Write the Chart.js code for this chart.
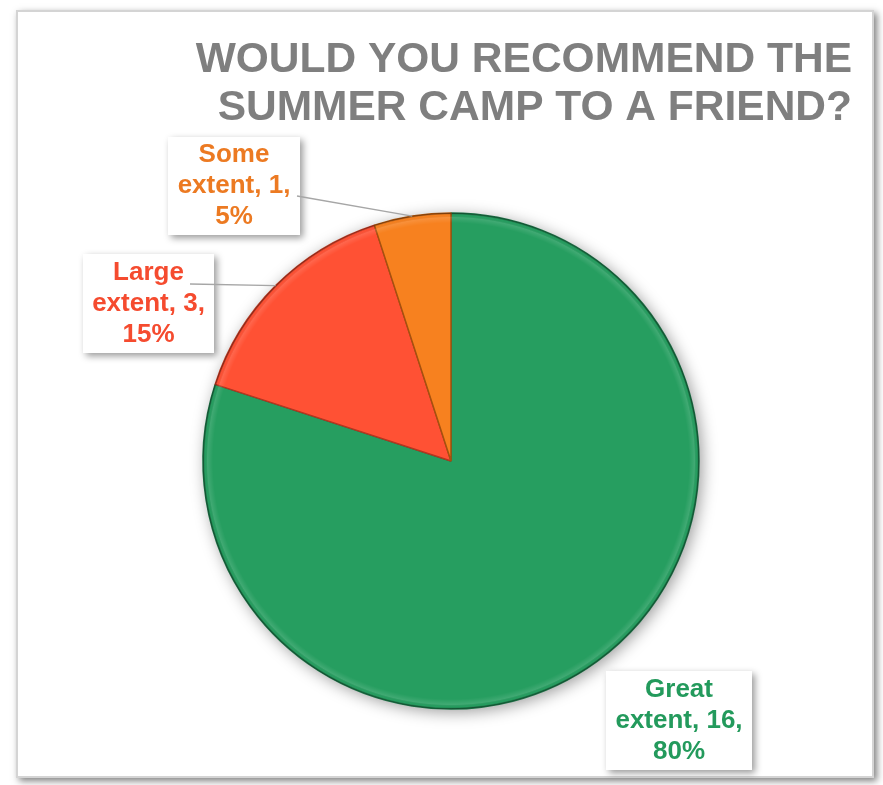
<!DOCTYPE html>
<html>
<head>
<meta charset="utf-8">
<title>Summer camp survey</title>
<script src="https://cdn.jsdelivr.net/npm/chart.js@4.4.0/dist/chart.umd.min.js"></script>
<style>
  html, body { margin: 0; padding: 0; background: #fff; }
  canvas { display: block; }
</style>
</head>
<body>
<canvas id="campChart" width="883" height="785"></canvas>
<script>
// survey answers
const answers = ['Great extent', 'Large extent', 'Some extent'];
const counts = [16, 3, 1];
const percents = [80, 15, 5];
const titleLines = ['WOULD YOU RECOMMEND THE', 'SUMMER CAMP TO A FRIEND?'];

const sliceColors = ['#269E60', '#FF5134', '#F7811F'];
const sliceEdges = ['#1A6C42', '#B53620', '#A5520E'];
const textColors = ['#239A5C', '#F54B2F', '#EC7A22'];

// label boxes: left, top, width, height, leader line start (null = no leader)
const boxes = [
  { x: 606, y: 671, w: 146, h: 99, from: null },
  { x: 83, y: 254, w: 131, h: 99, from: [190, 284] },
  { x: 168, y: 137, w: 132, h: 98, from: [297, 196] }
];

const FONT = '"Liberation Sans", Arial, sans-serif';

// outer frame with a drop shadow
const framePlugin = {
  id: 'frame',
  beforeDraw(chart) {
    const ctx = chart.ctx;
    ctx.save();
    ctx.fillStyle = '#fff';
    ctx.fillRect(0, 0, chart.width, chart.height);
    ctx.shadowColor = 'rgba(0,0,0,0.5)';
    ctx.shadowBlur = 7;
    ctx.shadowOffsetX = 3;
    ctx.shadowOffsetY = 3;
    ctx.fillRect(16, 10, 858, 768);
    ctx.restore();
    ctx.save();
    ctx.strokeStyle = '#d4d4d4';
    ctx.lineWidth = 2;
    ctx.strokeRect(17, 11, 856, 766);
    ctx.restore();

    // title, right aligned
    ctx.save();
    ctx.fillStyle = '#7F7F7F';
    ctx.font = 'bold 42.5px ' + FONT;
    ctx.textAlign = 'right';
    ctx.textBaseline = 'alphabetic';
    ctx.fillText(titleLines[0], 852, 72);
    ctx.fillText(titleLines[1], 852, 120);
    ctx.restore();
  }
};

// soft shadow under the pie and darker rim on top
const pieShade = {
  id: 'pieShade',
  beforeDatasetsDraw(chart) {
    const arc = chart.getDatasetMeta(0).data[0];
    const ctx = chart.ctx;
    ctx.save();
    ctx.shadowColor = 'rgba(0,0,0,0.4)';
    ctx.shadowBlur = 16;
    ctx.shadowOffsetX = 3;
    ctx.shadowOffsetY = 3;
    ctx.fillStyle = '#888';
    ctx.beginPath();
    ctx.arc(arc.x, arc.y, arc.outerRadius, 0, Math.PI * 2);
    ctx.fill();
    ctx.restore();
  },
  afterDatasetsDraw(chart) {
    const arc = chart.getDatasetMeta(0).data[0];
    const ctx = chart.ctx;
    const r = arc.outerRadius;
    ctx.save();
    const g = ctx.createRadialGradient(arc.x, arc.y, r - 10, arc.x, arc.y, r);
    g.addColorStop(0, 'rgba(255,255,255,0)');
    g.addColorStop(0.55, 'rgba(255,255,255,0.12)');
    g.addColorStop(0.8, 'rgba(0,0,0,0)');
    g.addColorStop(1, 'rgba(0,0,0,0.35)');
    ctx.fillStyle = g;
    ctx.beginPath();
    ctx.arc(arc.x, arc.y, r, 0, Math.PI * 2);
    ctx.fill();
    ctx.restore();
  }
};

// data label boxes with leader lines
const labelBoxes = {
  id: 'labelBoxes',
  afterDraw(chart) {
    const ctx = chart.ctx;
    const arcs = chart.getDatasetMeta(0).data;
    boxes.forEach((b, i) => {
      ctx.save();
      ctx.shadowColor = 'rgba(0,0,0,0.4)';
      ctx.shadowBlur = 7;
      ctx.shadowOffsetX = 3;
      ctx.shadowOffsetY = 3;
      ctx.fillStyle = '#fff';
      ctx.fillRect(b.x, b.y, b.w, b.h);
      ctx.restore();

      if (b.from) {
        const a = arcs[i];
        const mid = (a.startAngle + a.endAngle) / 2;
        ctx.save();
        ctx.strokeStyle = '#A6A6A6';
        ctx.lineWidth = 1.3;
        ctx.beginPath();
        ctx.moveTo(b.from[0], b.from[1]);
        ctx.lineTo(a.x + Math.cos(mid) * a.outerRadius, a.y + Math.sin(mid) * a.outerRadius);
        ctx.stroke();
        ctx.restore();
      }

      const words = answers[i].split(' ');
      const lines = [words[0], words.slice(1).join(' ') + ', ' + counts[i] + ',', percents[i] + '%'];
      ctx.save();
      ctx.fillStyle = textColors[i];
      ctx.font = 'bold 26px ' + FONT;
      ctx.textAlign = 'center';
      ctx.textBaseline = 'middle';
      const cx = b.x + b.w / 2;
      const cy = b.y + b.h / 2;
      lines.forEach((t, k) => ctx.fillText(t, cx, cy + (k - 1) * 31));
      ctx.restore();
    });
  }
};

new Chart(document.getElementById('campChart'), {
  type: 'pie',
  data: {
    labels: answers,
    datasets: [{
      data: counts,
      backgroundColor: sliceColors,
      borderColor: sliceEdges,
      borderWidth: 1.5,
      radius: 248
    }]
  },
  options: {
    responsive: false,
    animation: false,
    layout: { padding: { left: 203, right: 184, top: 213, bottom: 76 } },
    plugins: {
      legend: { display: false },
      tooltip: { enabled: false },
      title: { display: false }
    }
  },
  plugins: [framePlugin, pieShade, labelBoxes]
});
</script>
</body>
</html>
